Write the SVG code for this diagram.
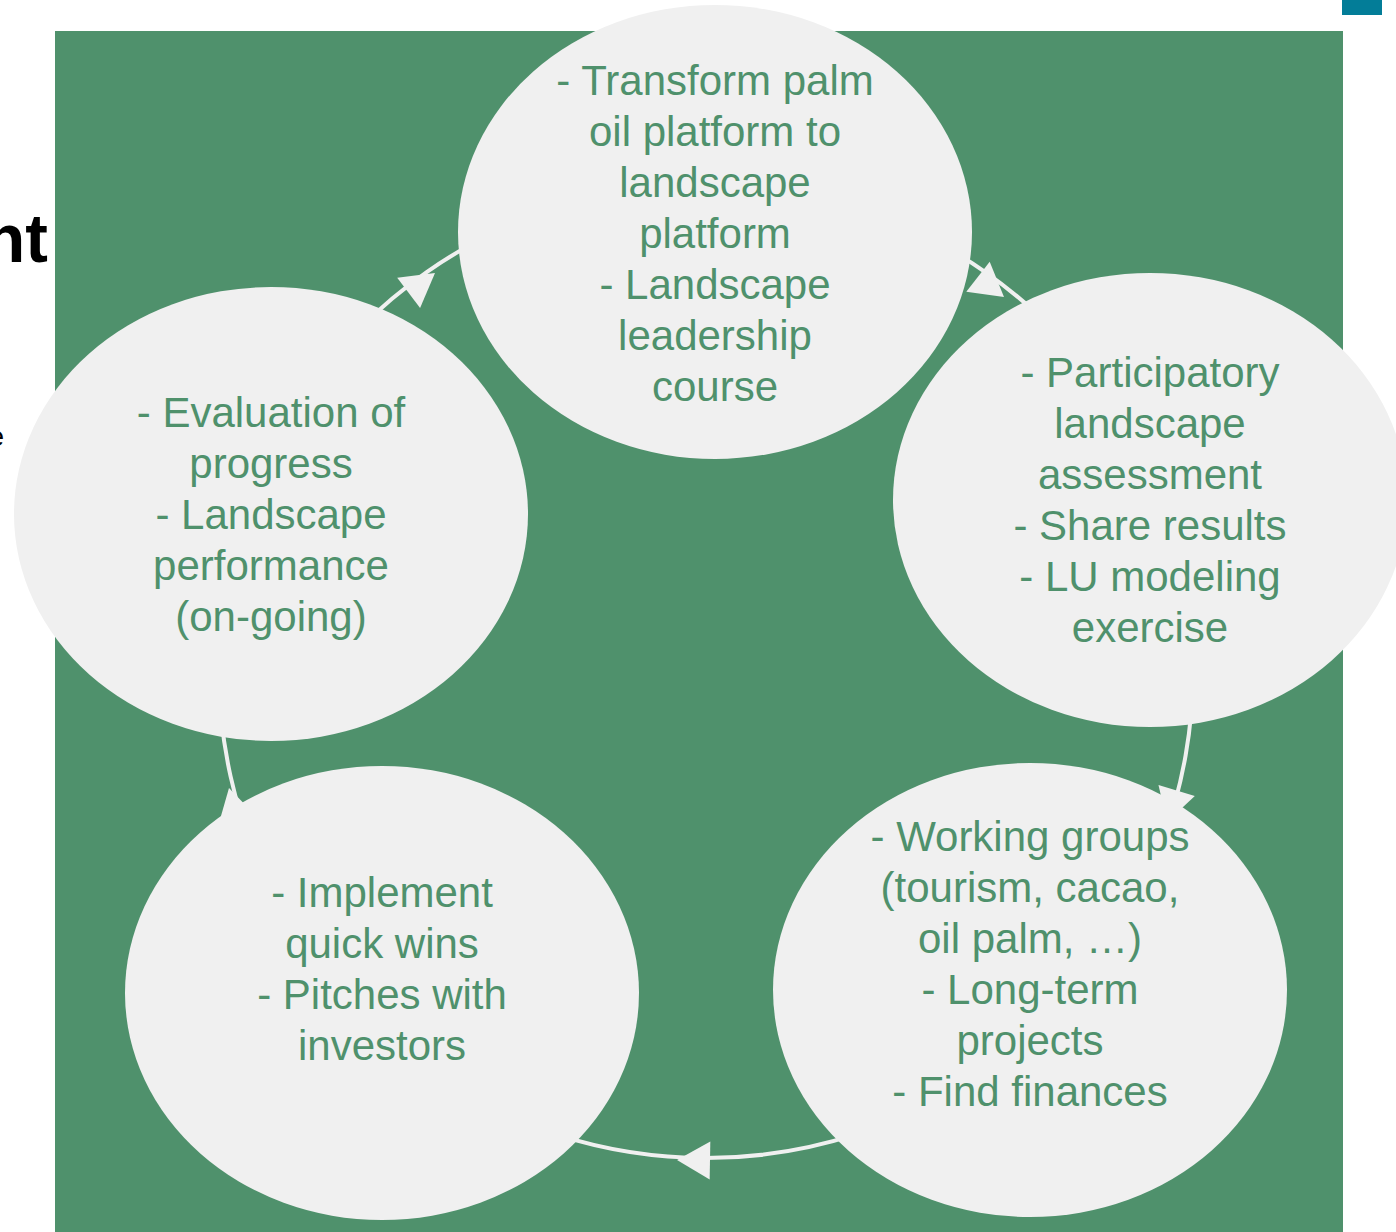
<svg xmlns="http://www.w3.org/2000/svg" xmlns:xlink="http://www.w3.org/1999/xlink" width="1396" height="1232" viewBox="0 0 1396 1232">
<style>
.bg{fill:#4F916C}
.node{fill:#F0F0F0}
.lbl{font-family:"Liberation Sans",Arial,sans-serif;font-size:42px;fill:#4F916C;text-anchor:middle}
.arc{fill:none;stroke:#F0F0F0;stroke-width:4}
.ah{fill:#F0F0F0}
</style>
<defs>
<path id="ah" d="M-33,-19 L0,0 L-33,19 Z"/>
</defs>
<rect x="0" y="0" width="1396" height="1232" fill="#FFFFFF"/>
<rect x="1342" y="0" width="40" height="15" fill="#037D98"/>
<text x="48" y="262" font-family="'Liberation Sans',Arial,sans-serif" font-size="68" font-weight="bold" fill="#000" text-anchor="end">nt</text>
<text x="4" y="446" font-family="'Liberation Sans',Arial,sans-serif" font-size="28" fill="#000" text-anchor="end">e</text>
<rect class="bg" x="55" y="31" width="1288" height="1201"/>
<g id="connectors">
<path class="arc" d="M832,200.6 A487,487 0 0 1 1104.9,391.7"/>
<path class="arc" d="M1185.6,586.4 A487,487 0 0 1 1127.7,914.5"/>
<path class="arc" d="M985.3,1070 A487,487 0 0 1 426.7,1070"/>
<path class="arc" d="M284.3,914.5 A487,487 0 0 1 220.9,628.5"/>
<path class="arc" d="M307.1,391.7 A487,487 0 0 1 580,200.6"/>
<use href="#ah" class="ah" transform="translate(1004,297) rotate(38)"/>
<use href="#ah" class="ah" transform="translate(1167,822) rotate(107)"/>
<use href="#ah" class="ah" transform="translate(677,1160) rotate(181)"/>
<use href="#ah" class="ah" transform="translate(229,788) rotate(256)"/>
<use href="#ah" class="ah" transform="translate(435,273) rotate(-37)"/>
</g>
<g id="node-top">
<ellipse class="node" cx="715" cy="232" rx="257" ry="227"/>
<text class="lbl"><tspan x="715" y="95">- Transform palm</tspan><tspan x="715" y="146">oil platform to</tspan><tspan x="715" y="197">landscape</tspan><tspan x="715" y="248">platform</tspan><tspan x="715" y="299">- Landscape</tspan><tspan x="715" y="350">leadership</tspan><tspan x="715" y="401">course</tspan></text>
</g>
<g id="node-right">
<ellipse class="node" cx="1150" cy="500" rx="257" ry="227"/>
<text class="lbl"><tspan x="1150" y="387">- Participatory</tspan><tspan x="1150" y="438">landscape</tspan><tspan x="1150" y="489">assessment</tspan><tspan x="1150" y="540">- Share results</tspan><tspan x="1150" y="591">- LU modeling</tspan><tspan x="1150" y="642">exercise</tspan></text>
</g>
<g id="node-bottom-right">
<ellipse class="node" cx="1030" cy="990" rx="257" ry="227"/>
<text class="lbl"><tspan x="1030" y="851">- Working groups</tspan><tspan x="1030" y="902">(tourism, cacao,</tspan><tspan x="1030" y="953">oil palm, …)</tspan><tspan x="1030" y="1004">- Long-term</tspan><tspan x="1030" y="1055">projects</tspan><tspan x="1030" y="1106">- Find finances</tspan></text>
</g>
<g id="node-bottom-left">
<ellipse class="node" cx="382" cy="993" rx="257" ry="227"/>
<text class="lbl"><tspan x="382" y="907">- Implement</tspan><tspan x="382" y="958">quick wins</tspan><tspan x="382" y="1009">- Pitches with</tspan><tspan x="382" y="1060">investors</tspan></text>
</g>
<g id="node-left">
<ellipse class="node" cx="271" cy="514" rx="257" ry="227"/>
<text class="lbl"><tspan x="271" y="427">- Evaluation of</tspan><tspan x="271" y="478">progress</tspan><tspan x="271" y="529">- Landscape</tspan><tspan x="271" y="580">performance</tspan><tspan x="271" y="631">(on-going)</tspan></text>
</g>
</svg>
